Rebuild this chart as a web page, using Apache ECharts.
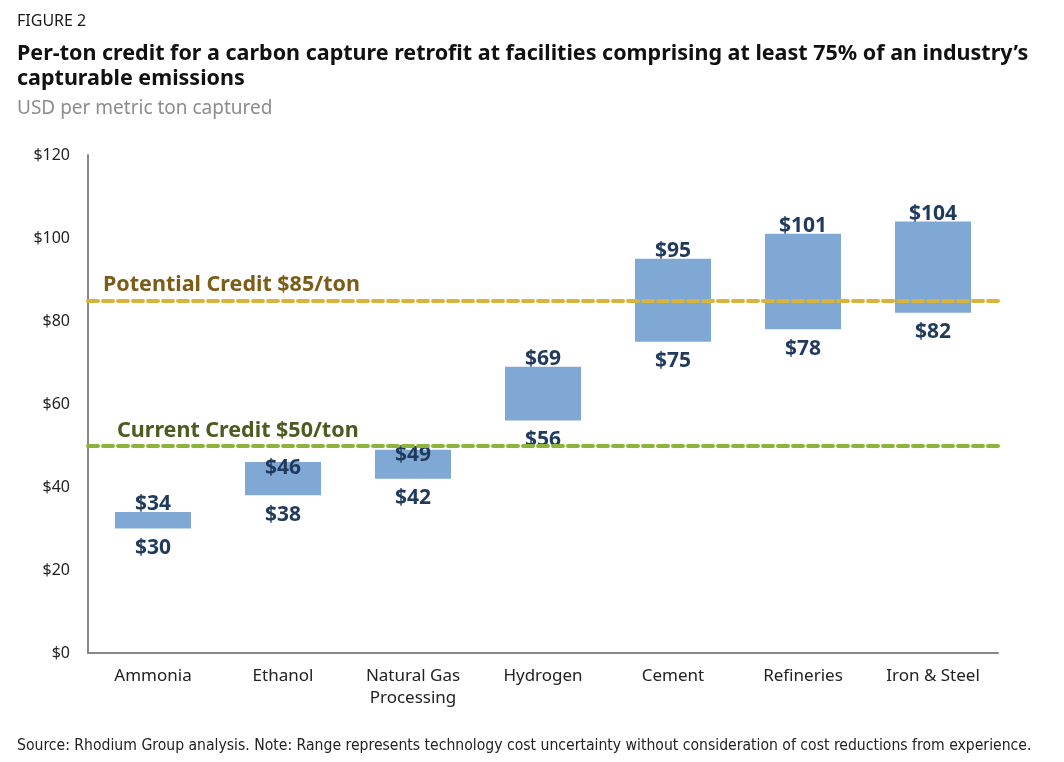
<!DOCTYPE html>
<html><head><meta charset="utf-8">
<script src="https://cdn.jsdelivr.net/npm/echarts@6/dist/echarts.min.js"></script>
<style>html,body{margin:0;padding:0;background:#fff}#c{width:1064px;height:762px}</style>
</head><body><div id="c"></div>
<script>
const categories = ['Ammonia', 'Ethanol', 'Natural Gas\nProcessing', 'Hydrogen', 'Cement', 'Refineries', 'Iron & Steel'];
const lowValues = [30, 38, 42, 56, 75, 78, 82];
const highValues = [34, 46, 49, 69, 95, 101, 104];
const potentialCredit = 85;
const currentCredit = 50;
const yTicks = [0, 20, 40, 60, 80, 100, 120];

const FONT = '"Noto Sans", sans-serif';
const LABEL_COLOR = '#1f3a5c';
const rangeValues = highValues.map((h, i) => h - lowValues[i]);
// top labels that would collide with the current-credit line are placed just inside the bar
const rangeData = rangeValues.map((v, i) => {
  const h = highValues[i];
  if (h < currentCredit && h > currentCredit - 6) {
    return {value: v, label: {position: 'insideTop', distance: -5}};
  }
  return v;
});

const chart = echarts.init(document.getElementById('c'), null, {renderer: 'canvas'});
chart.setOption({
  animation: false,
  backgroundColor: '#fff',
  textStyle: {fontFamily: FONT},
  title: [
    {text: 'FIGURE 2', left: 12, top: 8, textStyle: {fontFamily: FONT, fontSize: 16, fontWeight: 'normal', color: '#1a1a1a'}},
    {text: 'Per-ton credit for a carbon capture retrofit at facilities comprising at least 75% of an industry\u2019s\ncapturable emissions', left: 12, top: 36,
     textStyle: {fontFamily: FONT, fontSize: 21.5, fontWeight: 'bold', color: '#111', lineHeight: 25}},
    {text: 'USD per metric ton captured', left: 12, top: 94, textStyle: {fontFamily: FONT, fontSize: 19, fontWeight: 'normal', color: '#8c8c8c'}},
    {text: 'Source: Rhodium Group analysis. Note: Range represents technology cost uncertainty without consideration of cost reductions from experience.',
     left: 12, top: 733, textStyle: {fontFamily: '"Liberation Sans Narrow", "DejaVu Sans Condensed", sans-serif', fontSize: 15.6, fontWeight: 'normal', color: '#222'}}
  ],
  grid: {left: 88, right: 66, top: 155, bottom: 109, containLabel: false},
  xAxis: {
    type: 'category', data: categories,
    axisLine: {lineStyle: {color: '#888', width: 2}},
    axisTick: {show: false},
    axisLabel: {fontFamily: FONT, fontSize: 17, color: '#222', margin: 12, lineHeight: 22, interval: 0}
  },
  yAxis: {
    type: 'value', min: yTicks[0], max: yTicks[yTicks.length - 1], interval: 20,
    axisLine: {show: true, lineStyle: {color: '#888', width: 2}},
    axisTick: {show: false},
    splitLine: {show: false},
    axisLabel: {fontFamily: FONT, fontSize: 16, color: '#222', margin: 18, formatter: v => '$' + v}
  },
  series: [
    {
      type: 'bar', stack: 'r', data: lowValues, barWidth: 76,
      itemStyle: {color: 'transparent'},
      label: {show: true, position: 'insideTop', distance: 9, formatter: p => '$' + p.value,
              fontFamily: FONT, fontSize: 21, fontWeight: 'bold', color: LABEL_COLOR},
      markLine: {
        symbol: 'none', silent: true,
        data: [
          {yAxis: potentialCredit, lineStyle: {color: '#d9b43c', width: 4, type: [10, 5], cap: 'round'},
           label: {show: true, position: 'insideStartTop', formatter: 'Potential Credit $' + potentialCredit + '/ton', distance: [15, 4],
                   fontFamily: FONT, fontSize: 21.5, fontWeight: 'bold', color: '#7b5d17'}},
          {yAxis: currentCredit, lineStyle: {color: '#8db33c', width: 4, type: [10, 5], cap: 'round'},
           label: {show: true, position: 'insideStartTop', formatter: 'Current Credit $' + currentCredit + '/ton', distance: [29, 4],
                   fontFamily: FONT, fontSize: 21.5, fontWeight: 'bold', color: '#4c5b1f'}}
        ]
      }
    },
    {
      type: 'bar', stack: 'r', data: rangeData, barWidth: 76,
      itemStyle: {color: '#7fa9d4'},
      label: {show: true, position: 'top', distance: -3, formatter: p => '$' + highValues[p.dataIndex],
              fontFamily: FONT, fontSize: 21, fontWeight: 'bold', color: LABEL_COLOR}
    }
  ]
});
</script></body></html>
